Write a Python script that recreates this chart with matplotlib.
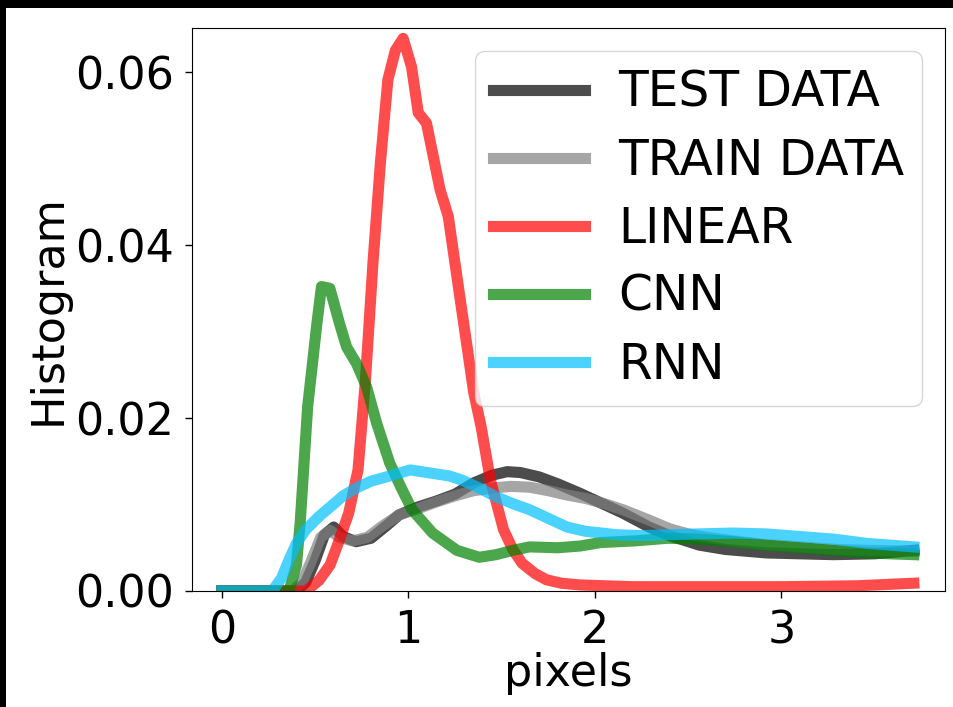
import matplotlib
matplotlib.use("Agg")
import matplotlib.pyplot as plt
from matplotlib.patches import Rectangle

labels = ["TEST DATA", "TRAIN DATA", "LINEAR", "CNN", "RNN"]

test_x = [0, 0.40, 0.45, 0.50, 0.55, 0.60, 0.65, 0.72, 0.80, 0.88, 0.95, 1.05, 1.15, 1.25, 1.35, 1.45,
          1.53, 1.60, 1.70, 1.80, 1.92, 2.05, 2.15, 2.29, 2.40, 2.56, 2.70, 2.92, 3.10, 3.28, 3.50, 3.71]
test_y = [0, 0, 0.0010, 0.0035, 0.0065, 0.0074, 0.0063, 0.0057, 0.0061, 0.0075, 0.0088, 0.0097, 0.0104,
          0.0112, 0.0125, 0.0134, 0.0138, 0.0137, 0.0132, 0.0124, 0.0113, 0.0100, 0.0090, 0.0074, 0.0064,
          0.0053, 0.0048, 0.0044, 0.0043, 0.0042, 0.0043, 0.0047]

train_x = [0, 0.38, 0.43, 0.48, 0.53, 0.58, 0.63, 0.70, 0.78, 0.86, 0.95, 1.05, 1.15, 1.25, 1.35, 1.45,
           1.55, 1.65, 1.75, 1.85, 1.95, 2.05, 2.15, 2.29, 2.40, 2.50, 2.60, 2.74, 2.90, 3.10, 3.30, 3.46, 3.71]
train_y = [0, 0, 0.0010, 0.0035, 0.0062, 0.0070, 0.0062, 0.0058, 0.0062, 0.0075, 0.0088, 0.0095, 0.0103,
           0.0110, 0.0116, 0.0119, 0.0121, 0.0120, 0.0116, 0.0111, 0.0107, 0.0101, 0.0094, 0.0082, 0.0072,
           0.0066, 0.0062, 0.0058, 0.0054, 0.0051, 0.0048, 0.0047, 0.0046]

linear_x = [0, 0.45, 0.52, 0.58, 0.63, 0.68, 0.73, 0.77, 0.81, 0.85, 0.89, 0.93, 0.972, 1.017, 1.053, 1.097,
            1.17, 1.214, 1.276, 1.35, 1.39, 1.44, 1.51, 1.56, 1.61, 1.68, 1.74, 1.82, 1.92, 2.2, 2.6, 3.0,
            3.4, 3.71]
linear_y = [0, 0, 0.0012, 0.0030, 0.0059, 0.0090, 0.0140, 0.0244, 0.0379, 0.0495, 0.0591, 0.0625, 0.0639,
            0.0606, 0.0553, 0.0541, 0.0464, 0.0433, 0.0340, 0.0230, 0.0190, 0.0128, 0.0071, 0.0048, 0.0032,
            0.0020, 0.0013, 0.0009, 0.0007, 0.0005, 0.0005, 0.0005, 0.0006, 0.0009]

cnn_x = [0, 0.36, 0.40, 0.42, 0.46, 0.51, 0.534, 0.579, 0.63, 0.669, 0.722, 0.776, 0.83, 0.90, 0.96, 1.02,
         1.13, 1.26, 1.38, 1.47, 1.56, 1.65, 1.80, 1.92, 2.03, 2.22, 2.39, 2.55, 2.74, 2.92, 3.10, 3.28,
         3.46, 3.71]
cnn_y = [0, 0, 0.0030, 0.0079, 0.0213, 0.0310, 0.0352, 0.0350, 0.0310, 0.0282, 0.0263, 0.0236, 0.0194,
         0.0148, 0.0120, 0.0094, 0.0067, 0.0047, 0.0039, 0.0042, 0.0047, 0.0051, 0.0050, 0.0052, 0.0056,
         0.0058, 0.0061, 0.0060, 0.0057, 0.0053, 0.0050, 0.0047, 0.0044, 0.0042]

rnn_x = [0, 0.27, 0.32, 0.36, 0.40, 0.45, 0.52, 0.58, 0.65, 0.72, 0.80, 0.90, 1.01, 1.13, 1.22, 1.29, 1.38,
         1.47, 1.56, 1.65, 1.75, 1.85, 1.95, 2.12, 2.25, 2.39, 2.55, 2.74, 2.92, 3.10, 3.28, 3.46, 3.71]
rnn_y = [0, 0, 0.0015, 0.0036, 0.0055, 0.0071, 0.0086, 0.0097, 0.0110, 0.0119, 0.0127, 0.0133, 0.0140,
         0.0136, 0.0133, 0.0128, 0.0119, 0.0109, 0.0101, 0.0094, 0.0084, 0.0074, 0.0069, 0.0065, 0.0064,
         0.0065, 0.0066, 0.0067, 0.0066, 0.0063, 0.0060, 0.0055, 0.0051]

colors = ["black", "gray", "red", "green", "deepskyblue"]
xticks = [0, 1, 2, 3]
yticks = [0.00, 0.02, 0.04, 0.06]

fig = plt.figure(figsize=(9.54, 7.07), dpi=100, facecolor="black")
fig.patches.append(Rectangle((6 / 954, 0), 1, 1 - 8 / 707, transform=fig.transFigure,
                             facecolor="white", edgecolor="none", zorder=-10))
ax = fig.add_axes([192 / 954, 1 - 591 / 707, (945 - 192) / 954, (591 - 28) / 707])

series = [(test_x, test_y), (train_x, train_y), (linear_x, linear_y), (cnn_x, cnn_y), (rnn_x, rnn_y)]
for (xs, ys), c, lab in zip(series, colors, labels):
    ax.plot(xs, ys, color=c, alpha=0.7, lw=8, label=lab)

ax.set_xlim(-0.16, 3.877)
ax.set_ylim(0, 0.0651)
ax.set_xticks(xticks)
ax.set_yticks(yticks)
ax.set_yticklabels([f"{v:.2f}" for v in yticks])
ax.tick_params(labelsize=32, length=5, width=1, pad=8)
ax.set_xlabel("pixels", fontsize=32, labelpad=0)
ax.set_ylabel("Histogram", fontsize=32, labelpad=4)

leg = ax.legend(loc="upper right", fontsize=35, handlelength=1.9, handletextpad=0.68,
                borderpad=0.36, labelspacing=0.41, borderaxespad=0.48)

fig.savefig("out.png", dpi=100, facecolor=fig.get_facecolor())
